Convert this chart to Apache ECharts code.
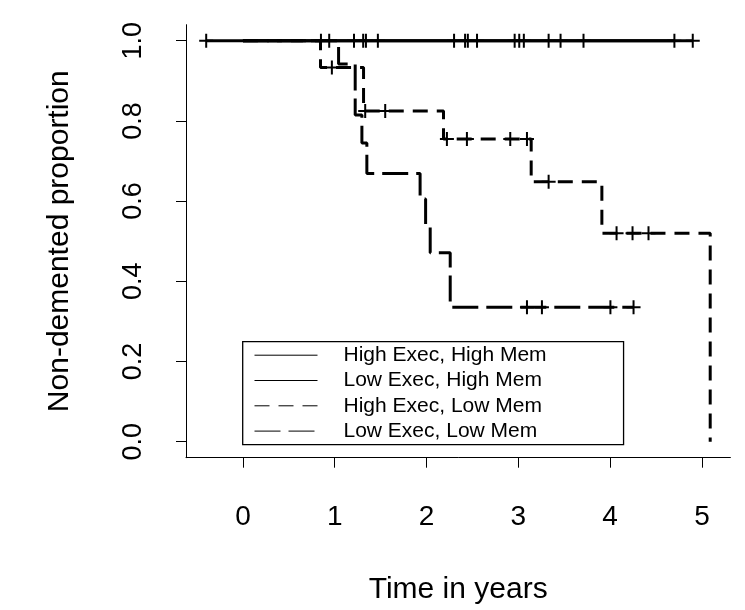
<!DOCTYPE html>
<html>
<head>
<meta charset="utf-8">
<script src="https://cdn.jsdelivr.net/npm/echarts@6/dist/echarts.min.js"></script>
<style>
  html, body { margin: 0; padding: 0; background: #fff; }
  #chart { width: 745px; height: 610px; }
</style>
</head>
<body>
<div id="chart"></div>
<script>
  // survival curves: step times and the level after each step
  var hhTimes = [-0.40];
  var hhSurv = [1];
  var hhEnd = 4.90;
  var hhCens = [-0.40, 0.94, 1.31, 1.47, 2.42, 2.55, 3.01, 3.33, 3.71, 4.90];

  var lhTimes = [0];
  var lhSurv = [1];
  var lhEnd = 4.70;
  var lhCens = [0.85, 1.21, 1.34, 2.30, 2.45, 2.96, 3.06, 3.46, 4.70];

  var hlTimes = [0, 0.845, 1.314, 2.185, 3.14, 3.91, 5.09];
  var hlSurv = [1, 0.933, 0.825, 0.755, 0.648, 0.52, 0];
  var hlEnd = 5.09;
  var hlCens = [0.969, 1.332, 1.55, 2.222, 2.44, 2.912, 3.094, 3.33, 4.07, 4.244, 4.418];

  var llTimes = [0, 1.042, 1.223, 1.296, 1.35, 1.93, 1.99, 2.04, 2.258];
  var llSurv = [1, 0.942, 0.815, 0.745, 0.669, 0.605, 0.54, 0.471, 0.335];
  var llEnd = 4.255;
  var llCens = [3.094, 3.257, 4.003, 4.255];

  var names = ['High Exec, High Mem', 'Low Exec, High Mem', 'High Exec, Low Mem', 'Low Exec, Low Mem'];
  var xTicks = [0, 1, 2, 3, 4, 5];
  var yTicks = [0, 0.2, 0.4, 0.6, 0.8, 1.0];

  var font = 'Liberation Sans';

  // build the step path of a KM curve
  function stepPoints(times, surv, end) {
    var pts = [];
    for (var i = 0; i < times.length; i++) {
      if (i > 0) pts.push([times[i], surv[i - 1]]);
      pts.push([times[i], surv[i]]);
    }
    pts.push([end, surv[surv.length - 1]]);
    return pts;
  }
  // level of the curve at time t
  function levelAt(times, surv, t) {
    var s = surv[0];
    for (var i = 0; i < times.length; i++) {
      if (times[i] <= t) s = surv[i];
    }
    return s;
  }
  function censPoints(times, surv, cens) {
    return cens.map(function (t) { return [t, levelAt(times, surv, t)]; });
  }

  var curves = [
    { t: hhTimes, s: hhSurv, end: hhEnd, c: hhCens, dash: 'solid' },
    { t: lhTimes, s: lhSurv, end: lhEnd, c: lhCens, dash: 'solid' },
    { t: hlTimes, s: hlSurv, end: hlEnd, c: hlCens, dash: [15, 9] },
    { t: llTimes, s: llSurv, end: llEnd, c: llCens, dash: [26, 8] }
  ];

  var series = [];
  curves.forEach(function (cv, i) {
    series.push({
      name: names[i],
      type: 'line',
      data: stepPoints(cv.t, cv.s, cv.end),
      symbol: 'none',
      showSymbol: false,
      silent: true,
      lineStyle: { color: '#000', width: 3, type: cv.dash, cap: 'butt' },
      itemStyle: { color: '#000' }
    });
  });
  curves.forEach(function (cv, i) {
    series.push({
      name: 'censor' + i,
      type: 'scatter',
      data: censPoints(cv.t, cv.s, cv.c),
      symbol: 'path://M5,0L5,10M0,5L10,5',
      symbolSize: 14,
      silent: true,
      itemStyle: { color: 'none', borderColor: '#000', borderWidth: 2, opacity: 1 }
    });
  });

  var myChart = echarts.init(document.getElementById('chart'));
  var option = {
    backgroundColor: '#fff',
    animation: false,
    textStyle: { fontFamily: font, color: '#000' },
    grid: { left: 186, right: 14.6, top: 24.7, bottom: 152.3, containLabel: false, outerBoundsMode: 'none' },
    legend: {
      data: names,
      orient: 'vertical',
      left: 242.7,
      top: 341.7,
      selectedMode: false,
      borderColor: '#000',
      borderWidth: 1.3,
      padding: [3, 77, 3, 11.3],
      itemGap: 4.3,
      itemWidth: 63,
      itemHeight: 14,
      lineStyle: { width: 1 },
      itemStyle: { opacity: 0 },
      textStyle: { fontFamily: font, fontSize: 21, color: '#000', padding: [0, 0, 0, 21] }
    },
    xAxis: {
      type: 'value',
      min: -0.62,
      max: 5.31,
      name: 'Time in years',
      nameLocation: 'middle',
      nameGap: 117,
      nameTextStyle: { fontFamily: font, fontSize: 30, color: '#000' },
      splitLine: { show: false },
      axisLine: { show: true, onZero: false, lineStyle: { color: '#000', width: 1 } },
      axisTick: { show: true, length: 10, customValues: xTicks, lineStyle: { color: '#000', width: 1 } },
      axisLabel: { customValues: xTicks, margin: 46, fontFamily: font, fontSize: 28, color: '#000' }
    },
    yAxis: {
      type: 'value',
      min: -0.04,
      max: 1.04,
      name: 'Non-demented proportion',
      nameLocation: 'middle',
      nameGap: 111,
      nameRotate: 90,
      nameTextStyle: { fontFamily: font, fontSize: 30, color: '#000' },
      splitLine: { show: false },
      axisLine: { show: true, onZero: false, lineStyle: { color: '#000', width: 1 } },
      axisTick: { show: true, length: 10, customValues: yTicks, lineStyle: { color: '#000', width: 1 } },
      axisLabel: {
        customValues: yTicks,
        rotate: 90,
        margin: 39,
        fontFamily: font,
        fontSize: 27,
        color: '#000',
        formatter: function (v) { return v.toFixed(1); }
      }
    },
    series: series
  };
  myChart.setOption(option);
</script>
</body>
</html>
